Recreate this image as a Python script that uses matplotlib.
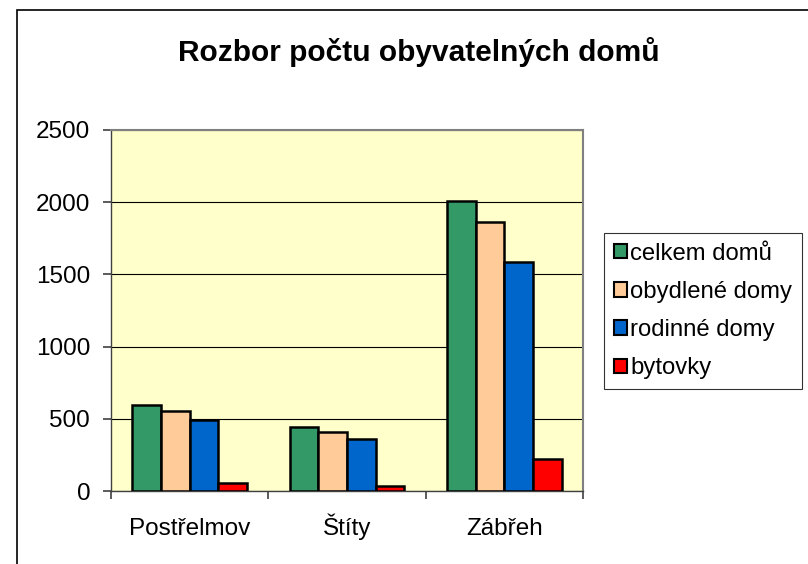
import numpy as np
import matplotlib.pyplot as plt
from matplotlib.patches import Rectangle

plt.rcParams['font.family'] = ['Liberation Sans', 'DejaVu Sans']

mista = ['Postřelmov', 'Štíty', 'Zábřeh']
celkem_domu = [595, 445, 2005]
obydlene_domy = [554, 408, 1863]
rodinne_domy = [492, 358, 1586]
bytovky = [53, 32, 224]

serie = ['celkem domů', 'obydlené domy', 'rodinné domy', 'bytovky']
barvy = ['#339966', '#FFCC99', '#0066CC', '#FF0000']
hodnoty = [celkem_domu, obydlene_domy, rodinne_domy, bytovky]

fig = plt.figure(figsize=(8.08, 5.64), dpi=100)
fig.patches.append(Rectangle((17 / 808, -0.1), 1.0, 1 - 10 / 564 + 0.1,
                             transform=fig.transFigure, fill=False,
                             edgecolor='black', linewidth=1.2))

ax = fig.add_axes([111 / 808, 1 - 491 / 564, (583 - 111) / 808, (491 - 130) / 564])
ax.set_facecolor('#FFFFCC')

x = np.arange(len(mista))
w = 1 / 5.5
for i, (name, vals, c) in enumerate(zip(serie, hodnoty, barvy)):
    ax.bar(x + (i - 1.5) * w, vals, w, color=c, edgecolor='black',
           linewidth=1.8, label=name, zorder=3)

ax.set_xlim(-0.5, 2.5)
ax.set_ylim(0, 2500)
ax.set_yticks(range(0, 2501, 500))
ax.set_xticks([-0.5, 0.5, 1.5, 2.5])
ax.set_xticklabels([])
# popisky kategorii zarovnane na spolecnou uctarii (kvuli Š)
for xi, m in zip(x, mista):
    ax.text(xi, -0.122, m, transform=ax.get_xaxis_transform(),
            ha='center', va='baseline', fontsize=17.5)
ax.tick_params(axis='x', length=6, width=1.2, direction='out', color='#404040')
ax.tick_params(axis='y', labelsize=17.5, length=6, width=1.2, pad=9,
               direction='out', color='#404040')
ax.grid(axis='y', color='black', linewidth=0.8, zorder=1)
for s in ['top', 'right']:
    ax.spines[s].set_color('#808080')
    ax.spines[s].set_linewidth(1.5)
for s in ['left', 'bottom']:
    ax.spines[s].set_color('#404040')
    ax.spines[s].set_linewidth(1.0)

fig.text(0.518, 1 - 52 / 564, 'Rozbor počtu obyvatelných domů',
         ha='center', va='center', fontsize=21.5, fontweight='bold')

leg = ax.legend(loc='upper left', bbox_to_anchor=(604 / 808, 1 - 233 / 564),
                bbox_transform=fig.transFigure, fontsize=17.2, frameon=True,
                fancybox=False, edgecolor='black', handlelength=0.55,
                handleheight=0.55, handletextpad=0.15, borderpad=0.4,
                labelspacing=0.68, borderaxespad=0)
leg.get_frame().set_linewidth(0.8)
for h in leg.legend_handles:
    h.set_linewidth(1.5)

fig.savefig('out.png', dpi=100)
